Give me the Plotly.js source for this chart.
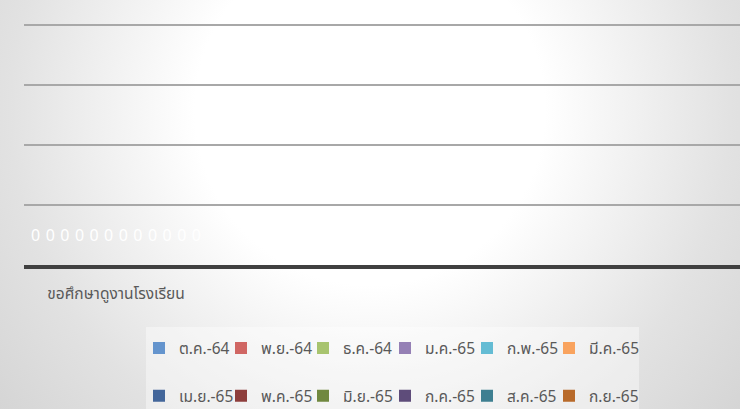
<!DOCTYPE html>
<html>
<head>
<meta charset="utf-8">
<script src="https://cdn.plot.ly/plotly-3.0.1.min.js"></script>
<style>
html,body{margin:0;padding:0;}
body{width:740px;height:409px;overflow:hidden;
background:radial-gradient(circle at 370px 110px,#ffffff 0px,#ffffff 175px,#e2e2e2 360px,#d0d0d0 520px);}
#chart{width:740px;height:409px;}
</style>
</head>
<body>
<div id="chart"></div>
<script>
const categories = ["ขอศึกษาดูงานโรงเรียน"];
const seriesNames = ["ต.ค.-64","พ.ย.-64","ธ.ค.-64","ม.ค.-65","ก.พ.-65","มี.ค.-65",
                     "เม.ย.-65","พ.ค.-65","มิ.ย.-65","ก.ค.-65","ส.ค.-65","ก.ย.-65"];
const seriesValues = [[0],[0],[0],[0],[0],[0],[0],[0],[0],[0],[0],[0]];
const seriesColors = ["#6494cd","#d06663","#a8c46f","#9580b5","#64bcd4","#f9a35e",
                      "#43669a","#8e3e3c","#70883f","#5e4c7a","#3e7f91","#b86a2a"];

const FONT = "'Noto Sans Thai','Noto Sans','DejaVu Sans',sans-serif";

function legendId(i) { return i === 0 ? 'legend' : 'legend' + (i + 1); }

const traces = [{
  type: 'scatter', x: [], y: [], yaxis: 'y', showlegend: false, hoverinfo: 'skip'
}].concat(seriesNames.map((name, i) => ({
  type: 'bar',
  name: name,
  x: categories,
  y: seriesValues[i],
  yaxis: 'y2',
  legend: legendId(i),
  marker: {color: seriesColors[i], line: {width: 0}},
  text: seriesValues[i].map(v => String(v)),
  textposition: 'outside',
  cliponaxis: false,
  textfont: {color: '#ffffff', size: 16, family: FONT},
  hoverinfo: 'skip'
})));

const H = 265;   // plot height px
const W = 716;   // plot width px
const layout = {
  width: 740, height: 409,
  margin: {l: 24, r: 0, t: 0, b: 144, pad: 0, autoexpand: false},
  paper_bgcolor: 'rgba(0,0,0,0)',
  plot_bgcolor: 'rgba(0,0,0,0)',
  barmode: 'group',
  bargap: 0.047,
  bargroupgap: 0,
  showlegend: true,
  font: {family: FONT, color: '#595959', size: 14},
  xaxis: {
    type: 'category',
    range: [-0.5, 3.391],
    showgrid: false,
    showline: true, linecolor: '#404040', linewidth: 4,
    ticks: '',
    ticklabelstandoff: 11,
    tickfont: {size: 15.5, color: '#595959', family: FONT},
    zeroline: false
  },
  yaxis: {
    range: [0, H / 60],
    dtick: 1, tick0: 0,
    showgrid: true, gridcolor: '#a8a8a8', gridwidth: 1.5,
    showticklabels: false, ticks: '',
    zeroline: false, showline: false
  },
  yaxis2: {
    overlaying: 'y',
    range: [-14.5 / 60, (H - 14.5) / 60],
    showgrid: false, showticklabels: false, ticks: '',
    zeroline: false, showline: false
  },
  shapes: [{
    type: 'rect', xref: 'paper', yref: 'paper',
    x0: 0.1704, x1: 0.859, y0: -0.234, y1: -0.55,
    fillcolor: 'rgba(255,255,255,0.4)', line: {width: 0}, layer: 'below'
  }]
};

seriesNames.forEach((n, i) => {
  const col = i % 6, row = Math.floor(i / 6);
  layout[legendId(i)] = {
    orientation: 'h', xanchor: 'left', yanchor: 'top',
    x: (139 + 82 * col - 24) / W,
    y: row === 0 ? -0.251 : -0.431,
    bgcolor: 'rgba(0,0,0,0)', borderwidth: 0,
    font: {size: 15.5, color: '#595959', family: FONT}, itemclick: false
  };
});

Plotly.newPlot('chart', traces, layout, {staticPlot: true, displayModeBar: false});
</script>
</body>
</html>
